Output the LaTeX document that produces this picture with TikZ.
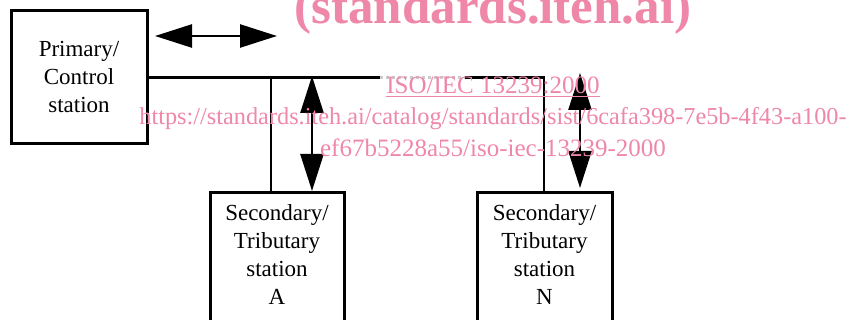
\documentclass[tikz,border=0pt]{standalone}
\usepackage{fontspec}
\setmainfont{Liberation Serif}
\usetikzlibrary{arrows.meta}
\definecolor{wmark}{RGB}{238,135,168}
\tikzset{
  stn/.style={draw, line width=3pt, align=center, font=\rmfamily\fontsize{23}{28}\selectfont},
  wire/.style={line width=2.5pt},
  dbl/.style={line width=2.5pt, {Triangle[length=37pt,width=23pt]}-{Triangle[length=37pt,width=23pt]}},
  wtext/.style={text=wmark, anchor=base, inner sep=0pt}
}
\begin{document}
\begin{tikzpicture}[x=1pt,y=-1pt]
				\useasboundingbox (0,0) rectangle (849,320);
				\clip (0,0) rectangle (849,320);
				% stations
				\node[stn, minimum width=136pt, minimum height=133pt] (prim) at (79,77.5) {Primary/\\Control\\station};
				\node[stn, minimum width=134pt, minimum height=140pt, text depth=16pt, anchor=north] (secA) at (277,191) {Secondary/\\Tributary\\station\\A};
				\node[stn, minimum width=135pt, minimum height=140pt, text depth=16pt, anchor=north] (secN) at (544.5,191) {Secondary/\\Tributary\\station\\N};
				% bus points
				\coordinate (busA) at (271,77.5);
				\coordinate (gapL) at (380,77.5);
				\coordinate (gapR) at (465,77.5);
				\coordinate (busN) at (544,77.5);
				\draw[wire] (prim.east) -- (gapL);
				\draw[wire, gray!40, dashed] (gapL) -- (gapR);
				\draw[wire] (gapR) -- (busN) -- (secN.north -| busN);
				\draw[wire] (busA) -- (secA.north -| busA);
				% two-way traffic
				\coordinate (hL) at (155,36);
				\coordinate (hR) at (277,36);
				\coordinate (vA) at (312,76);
				\coordinate (vN) at (580,73);
				\draw[dbl] (hL) -- (hR);
				\draw[dbl] (vA) -- (secA.north -| vA);
				\draw[dbl] (vN) -- ([yshift=3pt]secN.north -| vN);
				% overprinted text
				\node[wtext, font=\bfseries\fontsize{51}{51}\selectfont] (wtitle) at (493,24) {(standards.iteh.ai)};
				\node[wtext, font=\fontsize{25}{25}\selectfont] (wiso) at (493,94) {\underline{ISO/IEC 13239:2000}};
				\node[wtext, font=\fontsize{24.3}{25}\selectfont] (wurl) at (493,125) {https://standards.iteh.ai/catalog/standards/sist/6cafa398-7e5b-4f43-a100-};
				\node[wtext, font=\fontsize{25}{25}\selectfont] (wurlb) at (493,157) {ef67b5228a55/iso-iec-13239-2000};
\end{tikzpicture}
\end{document}
